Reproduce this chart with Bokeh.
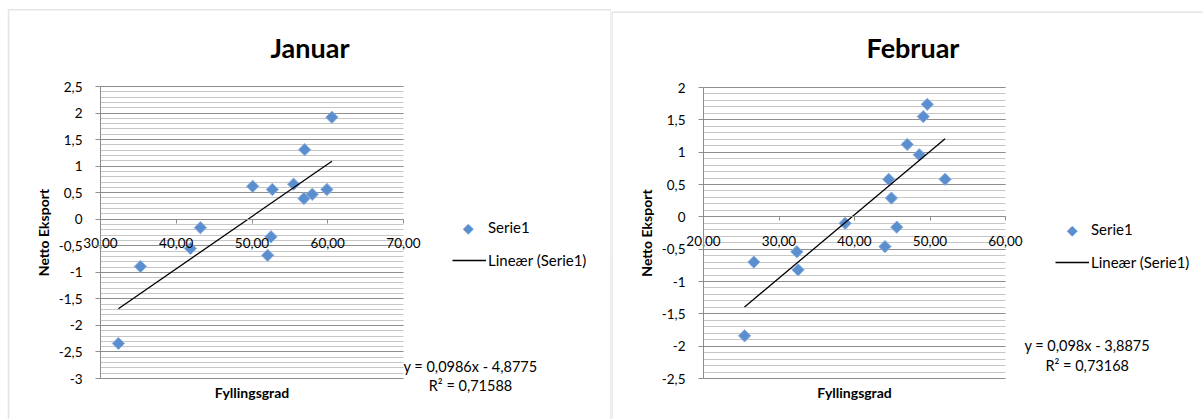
import math
from bokeh.plotting import figure
from bokeh.layouts import row
from bokeh.models import (Range1d, FixedTicker, SingleIntervalTicker, Label, Legend,
                          LegendItem, BoxAnnotation)
from bokeh.embed import file_html
from bokeh.resources import INLINE

# ---------------- data ----------------
jan_title = "Januar"
jan_x = [32.36, 35.27, 41.87, 43.19, 50.09, 52.68, 52.51, 52.07, 55.49, 56.95, 56.86, 57.96, 59.89, 60.55]
jan_y = [-2.34, -0.89, -0.55, -0.16, 0.62, 0.56, -0.33, -0.68, 0.66, 1.31, 0.39, 0.47, 0.56, 1.92]
jan_slope = 0.0986
jan_intercept = -4.8775
jan_eq = "y = 0,0986x - 4,8775"
jan_r2 = "R\u00b2 = 0,71588"
jan_xticks = [30, 40, 50, 60, 70]
jan_xlabels = ["30,00", "40,00", "50,00", "60,00", "70,00"]
jan_yticks = [-3, -2.5, -2, -1.5, -1, -0.5, 0, 0.5, 1, 1.5, 2, 2.5]
jan_ylabels = ["-3", "-2,5", "-2", "-1,5", "-1", "-0,5", "0", "0,5", "1", "1,5", "2", "2,5"]

feb_title = "Februar"
feb_x = [25.44, 26.67, 32.36, 32.53, 38.76, 44.04, 44.53, 44.89, 45.60, 46.98, 48.58, 49.11, 49.64, 52.00]
feb_y = [-1.84, -0.70, -0.54, -0.82, -0.10, -0.46, 0.58, 0.29, -0.16, 1.12, 0.96, 1.55, 1.74, 0.58]
feb_slope = 0.098
feb_intercept = -3.8875
feb_eq = "y = 0,098x - 3,8875"
feb_r2 = "R\u00b2 = 0,73168"
feb_xticks = [20, 30, 40, 50, 60]
feb_xlabels = ["20,00", "30,00", "40,00", "50,00", "60,00"]
feb_yticks = [-2.5, -2, -1.5, -1, -0.5, 0, 0.5, 1, 1.5, 2]
feb_ylabels = ["-2,5", "-2", "-1,5", "-1", "-0,5", "0", "0,5", "1", "1,5", "2"]

series_name = "Serie1"
trend_name = "Lineær (Serie1)"
x_title = "Fyllingsgrad"
y_title = "Netto Eksport"

FONT = "Lato"
MARKER_FILL = "#5b8ecf"
MARKER_LINE = "#8db1de"
MAJOR_GRID = "#8e8e8e"
MINOR_GRID = "#c6c6c6"
FRAME = "#a6a6a6"
H = 419


def make_chart(title, xs, ys, slope, intercept, eq, r2, xticks, xlabels, yticks, ylabels,
               width, area, box, title_x, xt_x, eq_pos, leg_pos, leg_marker):
    # area = (left, right, top, bottom) of the plot area in canvas pixels
    al, ar, at, ab = area
    xmin, xmax = xticks[0], xticks[-1]
    ymin, ymax = yticks[0], yticks[-1]
    kx = (ar - al) / (xmax - xmin)
    ky = (ab - at) / (ymax - ymin)
    xr = Range1d(xmin - al / kx, xmax + (width - ar) / kx)
    yr = Range1d(ymin - (H - ab) / ky, ymax + at / ky)

    p = figure(width=width, height=H, x_range=xr, y_range=yr,
               output_backend="svg", toolbar_location=None,
               min_border=0, min_border_left=0, min_border_right=0,
               min_border_top=0, min_border_bottom=0)
    p.outline_line_color = None
    p.background_fill_color = "white"
    p.border_fill_color = "white"

    # grid
    p.xgrid.visible = False
    g = p.ygrid[0]
    g.ticker = SingleIntervalTicker(interval=0.5, num_minor_ticks=5)
    g.bounds = (ymin, ymax)
    g.cross_bounds = (xmin, xmax)
    g.grid_line_color = MAJOR_GRID
    g.grid_line_width = 1
    g.minor_grid_line_color = MINOR_GRID
    g.minor_grid_line_width = 1

    # x axis crossing at 0
    xa = p.xaxis[0]
    xa.fixed_location = 0
    xa.bounds = (xmin, xmax)
    xa.ticker = FixedTicker(ticks=xticks)
    xa.major_label_overrides = {t: l for t, l in zip(xticks, xlabels)}
    xa.axis_line_color = MAJOR_GRID
    xa.major_tick_line_color = MAJOR_GRID
    xa.major_tick_out = 4
    xa.major_tick_in = 0
    xa.minor_tick_line_color = None
    xa.major_label_standoff = 15
    xa.major_label_text_font = FONT
    xa.major_label_text_font_size = "13.5px"
    xa.major_label_text_color = "black"

    ya = p.yaxis[0]
    ya.fixed_location = xmin
    ya.bounds = (ymin, ymax)
    ya.ticker = FixedTicker(ticks=yticks)
    ya.major_label_overrides = {t: l for t, l in zip(yticks, ylabels)}
    ya.axis_line_color = MAJOR_GRID
    ya.major_tick_line_color = MAJOR_GRID
    ya.major_tick_out = 5
    ya.major_tick_in = 0
    ya.minor_tick_line_color = None
    ya.major_label_standoff = 13
    ya.major_label_text_font = FONT
    ya.major_label_text_font_size = "13.5px"
    ya.major_label_text_color = "black"

    # data
    sc = p.scatter(xs, ys, marker="square", angle=math.pi / 4, size=8.7,
                   fill_color=MARKER_FILL, line_color=MARKER_LINE, line_width=1)
    x0, x1 = min(xs), max(xs)
    ln = p.line([x0, x1], [slope * x0 + intercept, slope * x1 + intercept],
                line_color="black", line_width=1.3)
    # legend swatch for the series is drawn as a diamond text mark below
    ghost = p.scatter(x=[], y=[], fill_alpha=0, line_alpha=0)

    legend = Legend(items=[LegendItem(label=series_name, renderers=[ghost]),
                           LegendItem(label=trend_name, renderers=[ln])],
                    location=leg_pos, padding=0, margin=0, spacing=13,
                    glyph_width=34, glyph_height=20, label_height=20, label_standoff=2,
                    border_line_color=None, background_fill_alpha=0,
                    label_text_font=FONT, label_text_font_size="15px",
                    label_text_color="black")
    p.add_layout(legend)

    def lab(x, y, text, size, bold=False, angle=0.0, font=FONT, color="black"):
        p.add_layout(Label(x=x, y=H - y, x_units="screen", y_units="screen", text=text,
                           angle=angle, text_align="center", text_baseline="middle",
                           text_font=font, text_font_style="bold" if bold else "normal",
                           text_font_size=size, text_color=color))

    lab(leg_marker[0], leg_marker[1], "\u25c6", "14px", font="DejaVu Sans", color=MARKER_FILL)
    lab(title_x, 47, title, "27px", bold=True)
    lab(xt_x, 392, x_title, "14px", bold=True)
    lab(al - 57, (at + ab) / 2, y_title, "14px", bold=True, angle=math.pi / 2)
    lab(eq_pos[0], eq_pos[1], eq, "14.5px")
    lab(eq_pos[0], eq_pos[2], r2, "14.5px")

    p.add_layout(BoxAnnotation(left=box[0], right=box[1], top=H - box[2], bottom=-80,
                               left_units="screen", right_units="screen",
                               top_units="screen", bottom_units="screen",
                               fill_alpha=0, fill_color=None, line_color=FRAME,
                               line_width=1.5, level="underlay"))
    return p


p1 = make_chart(jan_title, jan_x, jan_y, jan_slope, jan_intercept, jan_eq, jan_r2,
                jan_xticks, jan_xlabels, jan_yticks, jan_ylabels,
                width=611, area=(100, 403, 86, 378), box=(8, 610.5, 9.3),
                title_x=309.5, xt_x=251.5, eq_pos=(470, 366, 385), leg_pos=(452, 149),
                leg_marker=(467.7, 227.3))
p2 = make_chart(feb_title, feb_x, feb_y, feb_slope, feb_intercept, feb_eq, feb_r2,
                feb_xticks, feb_xlabels, feb_yticks, feb_ylabels,
                width=592, area=(92, 394, 87, 378), box=(0.5, 700, 11.7),
                title_x=301.5, xt_x=243, eq_pos=(475.7, 345, 365), leg_pos=(444, 147),
                leg_marker=(460.7, 229))

layout = row(p1, p2)
open("out.html", "w").write(file_html(layout, INLINE))
